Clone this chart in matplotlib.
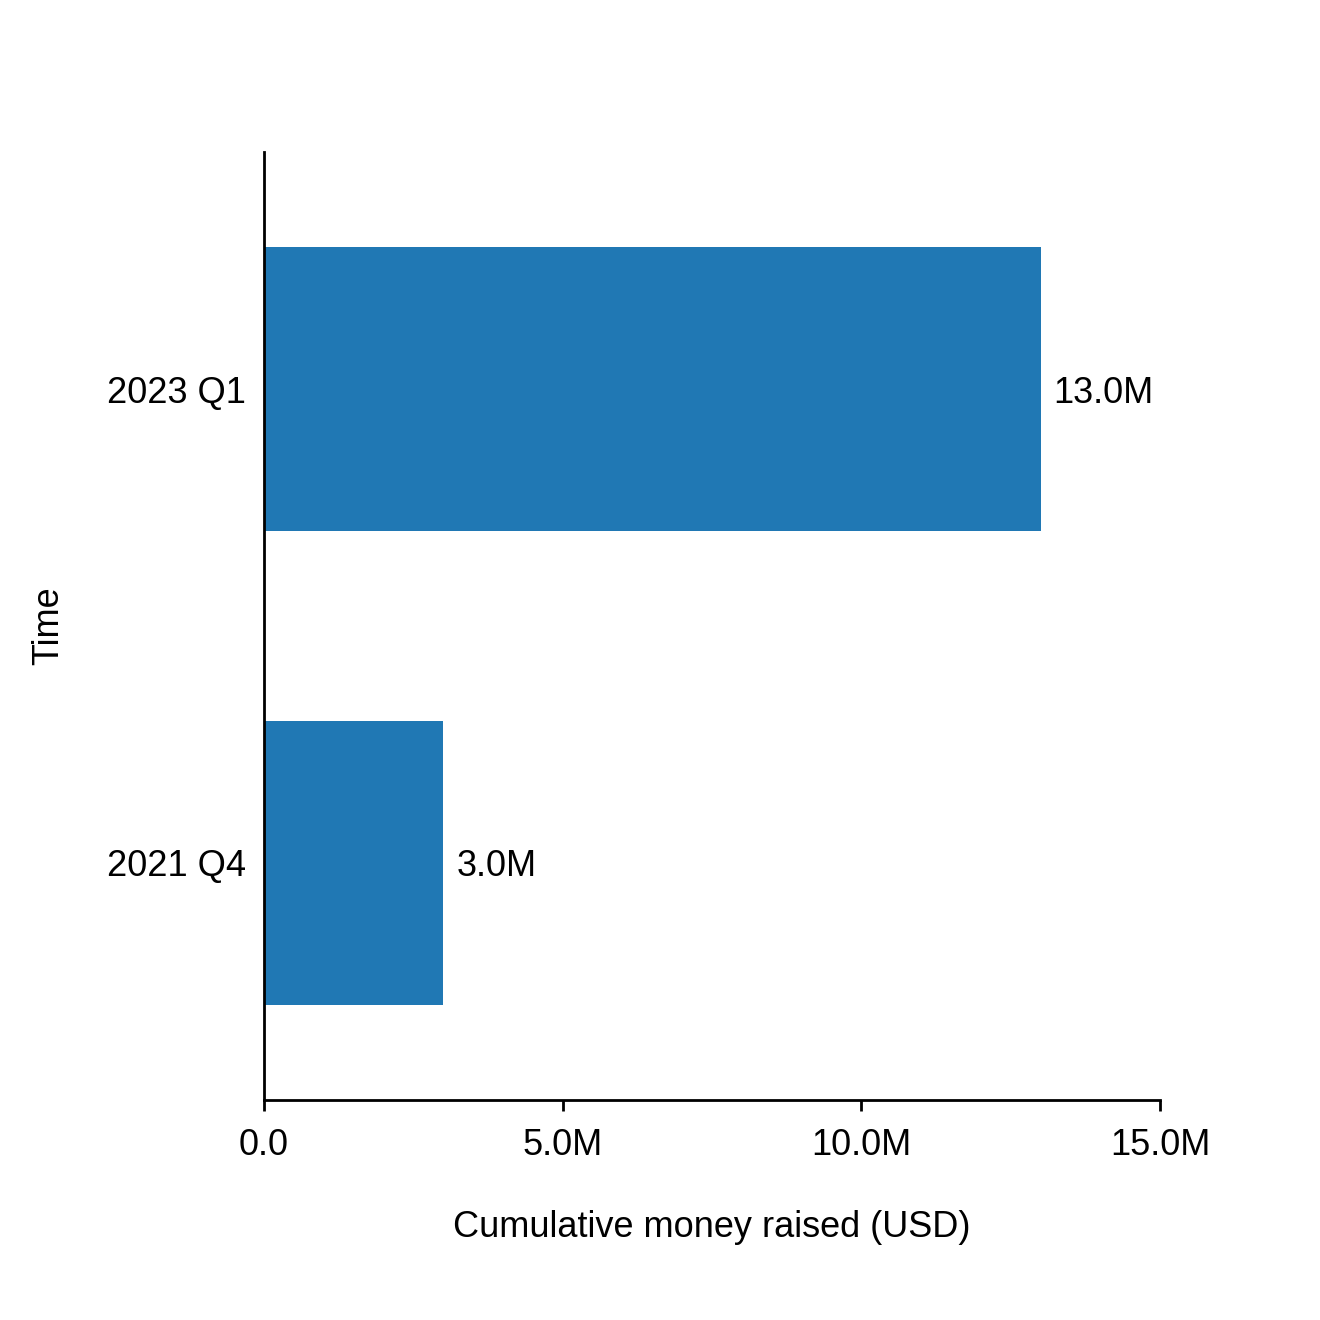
import matplotlib.pyplot as plt

plt.rcParams['font.family'] = ['Liberation Sans', 'DejaVu Sans']

# données
quarters = ["2021 Q4", "2023 Q1"]
raised = [3.0e6, 13.0e6]
bar_labels = ["3.0M", "13.0M"]
x_ticks = [0, 5e6, 10e6, 15e6]
x_tick_labels = ["0.0", "5.0M", "10.0M", "15.0M"]

fig = plt.figure(figsize=(13.2, 13.2), dpi=100)
ax = fig.add_axes([0.2, 0.1667, 0.6788, 0.7181])

bars = ax.barh(range(len(quarters)), raised, height=0.6, color="#2078b4")
for b, lab in zip(bars, bar_labels):
    ax.text(b.get_width() + 0.22e6, b.get_y() + b.get_height() / 2, lab,
            va="center_baseline", ha="left", fontsize=26)

ax.set_ylim(-0.5, 1.5)
ax.set_xlim(0, 15e6)
ax.set_yticks(range(len(quarters)))
ax.set_yticklabels(quarters, fontsize=26)
ax.set_xticks(x_ticks)
ax.set_xticklabels(x_tick_labels, fontsize=26)

ax.spines["top"].set_visible(False)
ax.spines["right"].set_visible(False)
ax.spines["left"].set_linewidth(2)
ax.spines["bottom"].set_linewidth(2)
ax.tick_params(axis="x", length=8, width=2, pad=12)
ax.tick_params(axis="y", length=0, pad=13)

ax.set_xlabel("Cumulative money raised (USD)", fontsize=26, labelpad=34)
ax.set_ylabel("Time", fontsize=26, labelpad=29)

plt.savefig("out.png", dpi=100)
plt.close()
